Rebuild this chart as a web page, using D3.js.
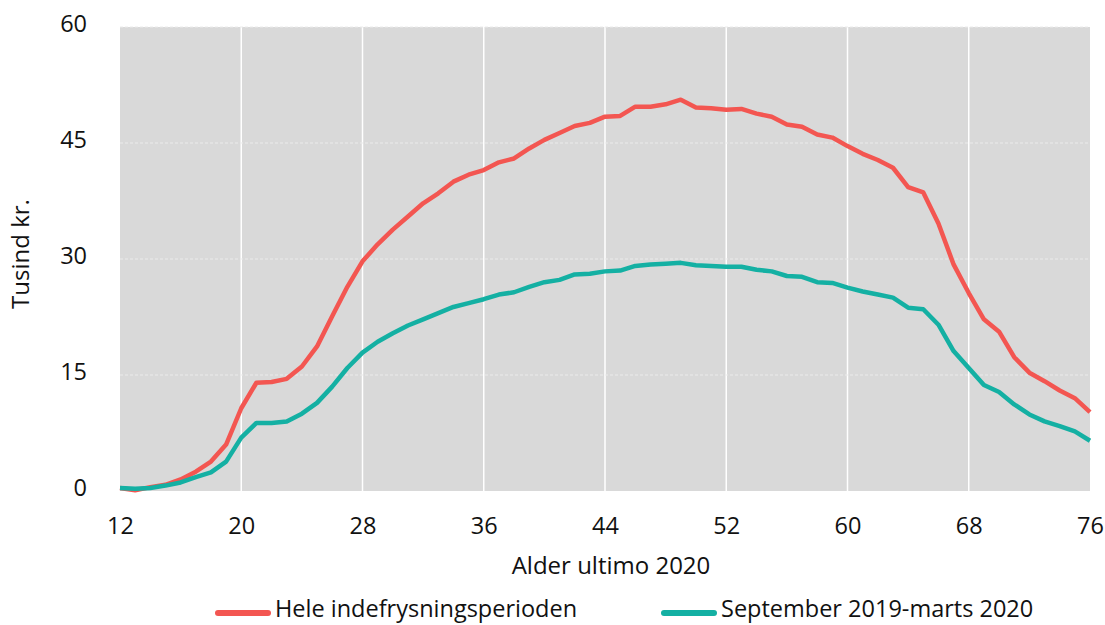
<!doctype html>
<html>
<head>
    <script src="https://d3js.org/d3.v7.min.js"></script>
    <style>
      body { margin: 0; background: #fff; }
      text { font-family: "Open Sans", "Noto Sans", sans-serif; fill: #111; }
    </style>
</head>
<body>
    <svg id="chart" width="1105" height="625"></svg>
    <script>
        // Data (tusind kr. by age at end of 2020)
        const ages = d3.range(12, 77);
        const hele = [
          0.4, 0.1, 0.5, 0.8, 1.5, 2.5, 3.8, 6.0, 10.7, 14.0,
          14.1, 14.5, 16.1, 18.7, 22.6, 26.4, 29.7, 31.9, 33.8, 35.5,
          37.2, 38.5, 40.0, 40.9, 41.5, 42.5, 43.0, 44.3, 45.4, 46.3,
          47.2, 47.6, 48.4, 48.5, 49.7, 49.7, 50.0, 50.6, 49.6, 49.5,
          49.3, 49.4, 48.8, 48.4, 47.4, 47.1, 46.1, 45.7, 44.6, 43.6,
          42.8, 41.8, 39.3, 38.6, 34.6, 29.3, 25.6, 22.2, 20.6, 17.3,
          15.3, 14.2, 13.0, 12.0, 10.2
        ];
        const sept = [
          0.4, 0.3, 0.4, 0.7, 1.1, 1.8, 2.4, 3.8, 6.9, 8.8,
          8.8, 9.0, 10.0, 11.4, 13.5, 15.9, 17.9, 19.3, 20.4, 21.4,
          22.2, 23.0, 23.8, 24.3, 24.8, 25.4, 25.7, 26.4, 27.0, 27.3,
          28.0, 28.1, 28.4, 28.5, 29.1, 29.3, 29.4, 29.5, 29.2, 29.1,
          29.0, 29.0, 28.6, 28.4, 27.8, 27.7, 27.0, 26.9, 26.3, 25.8,
          25.4, 25.0, 23.7, 23.5, 21.5, 18.1, 15.9, 13.7, 12.8, 11.2,
          9.9, 9.0, 8.4, 7.7, 6.5
        ];
        const xTicks = [12, 20, 28, 36, 44, 52, 60, 68, 76];
        const yTicks = [0, 15, 30, 45, 60];
        const seriesNames = ["Hele indefrysningsperioden", "September 2019-marts 2020"];
        const colors = ["#f35651", "#14b0a3"];

        const plot = { left: 120, right: 1090, top: 27, bottom: 491 };
        const svg = d3.select("#chart");

        const x = d3.scaleLinear().domain([12, 76]).range([plot.left, plot.right]);
        const y = d3.scaleLinear().domain([0, 60]).range([plot.bottom, plot.top]);

        // plot background
        svg.append("rect")
          .attr("x", plot.left).attr("y", plot.top)
          .attr("width", plot.right - plot.left).attr("height", plot.bottom - plot.top)
          .attr("fill", "#d9d9d9");

        // vertical grid
        svg.append("g")
          .selectAll("line")
          .data(xTicks.slice(1, -1))
          .join("line")
          .attr("x1", d => x(d)).attr("x2", d => x(d))
          .attr("y1", plot.top).attr("y2", plot.bottom)
          .attr("stroke", "#fff")
          .attr("stroke-width", 1.5);

        // horizontal grid (dashed)
        svg.append("g")
          .selectAll("line")
          .data(yTicks.slice(1))
          .join("line")
          .attr("x1", plot.left).attr("x2", plot.right)
          .attr("y1", d => y(d)).attr("y2", d => y(d))
          .attr("stroke", "#ececec")
          .attr("stroke-width", 1.2)
          .attr("stroke-dasharray", "3,2");

        // axes (labels only)
        const xAxis = svg.append("g")
          .attr("transform", `translate(0,${plot.bottom})`)
          .call(d3.axisBottom(x).tickValues(xTicks).tickSize(0).tickPadding(26));
        xAxis.select(".domain").remove();
        xAxis.selectAll("text")
          .attr("font-size", 23.5)
          .attr("font-family", "Open Sans")
          .attr("fill", "#111");

        const yAxis = svg.append("g")
          .attr("transform", `translate(${plot.left},0)`)
          .call(d3.axisLeft(y).tickValues(yTicks).tickSize(0).tickPadding(33));
        yAxis.select(".domain").remove();
        yAxis.selectAll("text")
          .attr("font-size", 23.5)
          .attr("font-family", "Open Sans")
          .attr("fill", "#111")
          .attr("dy", "0.19em");

        // lines
        const line = d3.line()
          .x((d, i) => x(ages[i]))
          .y(d => y(d));

        [hele, sept].forEach((s, k) => {
          svg.append("path")
            .datum(s)
            .attr("fill", "none")
            .attr("stroke", colors[k])
            .attr("stroke-width", 4.5)
            .attr("stroke-linejoin", "round")
            .attr("d", line);
        });

        // axis titles
        svg.append("text")
          .attr("x", (plot.left + plot.right) / 2 + 6)
          .attr("y", 574)
          .attr("text-anchor", "middle")
          .attr("font-size", 24)
          .text("Alder ultimo 2020");

        svg.append("text")
          .attr("transform", `translate(29,${(plot.top + plot.bottom) / 2 - 5}) rotate(-90)`)
          .attr("text-anchor", "middle")
          .attr("font-size", 24)
          .text("Tusind kr.");

        // legend
        const legendX = [215, 661];
        const legend = svg.append("g");
        seriesNames.forEach((name, k) => {
          legend.append("line")
            .attr("x1", legendX[k] + 3).attr("x2", legendX[k] + 53)
            .attr("y1", 613).attr("y2", 613)
            .attr("stroke", colors[k])
            .attr("stroke-width", 6)
            .attr("stroke-linecap", "round");
          legend.append("text")
            .attr("x", legendX[k] + 60)
            .attr("y", 617)
            .attr("font-size", 23.5)
            .text(name);
        });
    </script>
</body>
</html>
